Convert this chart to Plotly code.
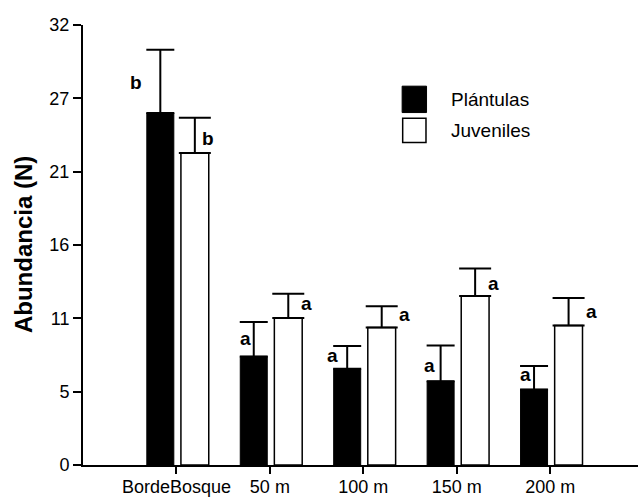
import plotly.graph_objects as go

categories = ["BordeBosque", "50 m", "100 m", "150 m", "200 m"]
plantulas = [25.6, 7.9, 7.0, 6.1, 5.5]
plantulas_err = [4.6, 2.5, 1.65, 2.6, 1.7]
juveniles = [22.7, 10.7, 10.0, 12.3, 10.15]
juveniles_err = [2.55, 1.75, 1.55, 2.0, 2.0]
letters_plantulas = ["b", "a", "a", "a", "a"]
letters_juveniles = ["b", "a", "a", "a", "a"]
y_tick_values = [0, 32 / 6, 64 / 6, 16, 128 / 6, 160 / 6, 32]
y_tick_labels = ["0", "5", "11", "16", "21", "27", "32"]
series_names = ["Plántulas", "Juveniles"]

# label placement (pixel shifts relative to top of error bar)
shift_p = [(-40, -33), (-24, -16), (-31, -9), (-27, -20), (-25, -8)]
shift_j = [(32, -21), (37, -10), (41, -8), (37, -15), (41, -14)]

FONT = "Arial, Liberation Sans, sans-serif"
xs = list(range(len(categories)))

fig = go.Figure()
fig.add_trace(go.Bar(
    x=xs, y=plantulas, name=series_names[0], offset=-0.317, width=0.289,
    marker=dict(color="black", line=dict(color="black", width=1)),
    error_y=dict(type="data", array=plantulas_err, arrayminus=[0] * 5,
                 symmetric=False, color="black", thickness=2, width=14),
    showlegend=False,
))
fig.add_trace(go.Bar(
    x=xs, y=juveniles, name=series_names[1], offset=0.048, width=0.298,
    marker=dict(color="white", line=dict(color="black", width=1.5)),
    error_y=dict(type="data", array=juveniles_err, arrayminus=[0] * 5,
                 symmetric=False, color="black", thickness=2, width=16),
    showlegend=False,
))

annotations = []
for i in xs:
    annotations.append(dict(
        x=i, y=plantulas[i] + plantulas_err[i], xref="x", yref="y",
        text=letters_plantulas[i], showarrow=False,
        xshift=shift_p[i][0], yshift=shift_p[i][1],
        font=dict(family=FONT, size=19, color="black", weight="bold"),
        xanchor="center", yanchor="middle"))
    annotations.append(dict(
        x=i, y=juveniles[i] + juveniles_err[i], xref="x", yref="y",
        text=letters_juveniles[i], showarrow=False,
        xshift=shift_j[i][0], yshift=shift_j[i][1],
        font=dict(family=FONT, size=19, color="black", weight="bold"),
        xanchor="center", yanchor="middle"))

# legend drawn manually
annotations.append(dict(x=0.659, y=0.831, xref="paper", yref="paper", text=series_names[0],
                        showarrow=False, xanchor="left", yanchor="middle",
                        font=dict(family=FONT, size=19, color="black")))
annotations.append(dict(x=0.659, y=0.761, xref="paper", yref="paper", text=series_names[1],
                        showarrow=False, xanchor="left", yanchor="middle",
                        font=dict(family=FONT, size=19, color="black")))
# y-axis title
annotations.append(dict(x=-0.108, y=0.5, xref="paper", yref="paper", text="<b>Abundancia (N)</b>",
                        showarrow=False, textangle=-90, xanchor="center", yanchor="middle",
                        font=dict(family=FONT, size=24, color="black")))

shapes = [
    dict(type="rect", xref="paper", yref="paper", x0=0.575, x1=0.619, y0=0.801, y1=0.861,
         fillcolor="black", line=dict(color="black", width=1)),
    dict(type="rect", xref="paper", yref="paper", x0=0.576, x1=0.618, y0=0.733, y1=0.788,
         fillcolor="white", line=dict(color="black", width=1.5)),
]

fig.update_layout(
    width=638, height=498,
    margin=dict(l=83, r=0, t=25, b=33),
    plot_bgcolor="white", paper_bgcolor="white",
    barmode="overlay",
    font=dict(family=FONT, size=18, color="black"),
    annotations=annotations, shapes=shapes,
    showlegend=False,
    xaxis=dict(range=[-1, 4.94], tickvals=xs, ticktext=categories,
               showline=True, linecolor="black", linewidth=2,
               ticks="outside", ticklen=7, tickwidth=2, tickcolor="black",
               ticklabelstandoff=-3,
               showgrid=False, zeroline=False, automargin=False,
               tickfont=dict(family=FONT, size=18, color="black")),
    yaxis=dict(range=[0, 32], tickvals=y_tick_values, ticktext=y_tick_labels,
               showline=True, linecolor="black", linewidth=2,
               ticks="outside", ticklen=8, tickwidth=2, tickcolor="black",
               showgrid=False, zeroline=False, automargin=False,
               tickfont=dict(family=FONT, size=18, color="black")),
)

fig.write_html("out.html", config={"displayModeBar": False},
               post_script="document.body.style.margin='0';document.body.style.padding='0';")
